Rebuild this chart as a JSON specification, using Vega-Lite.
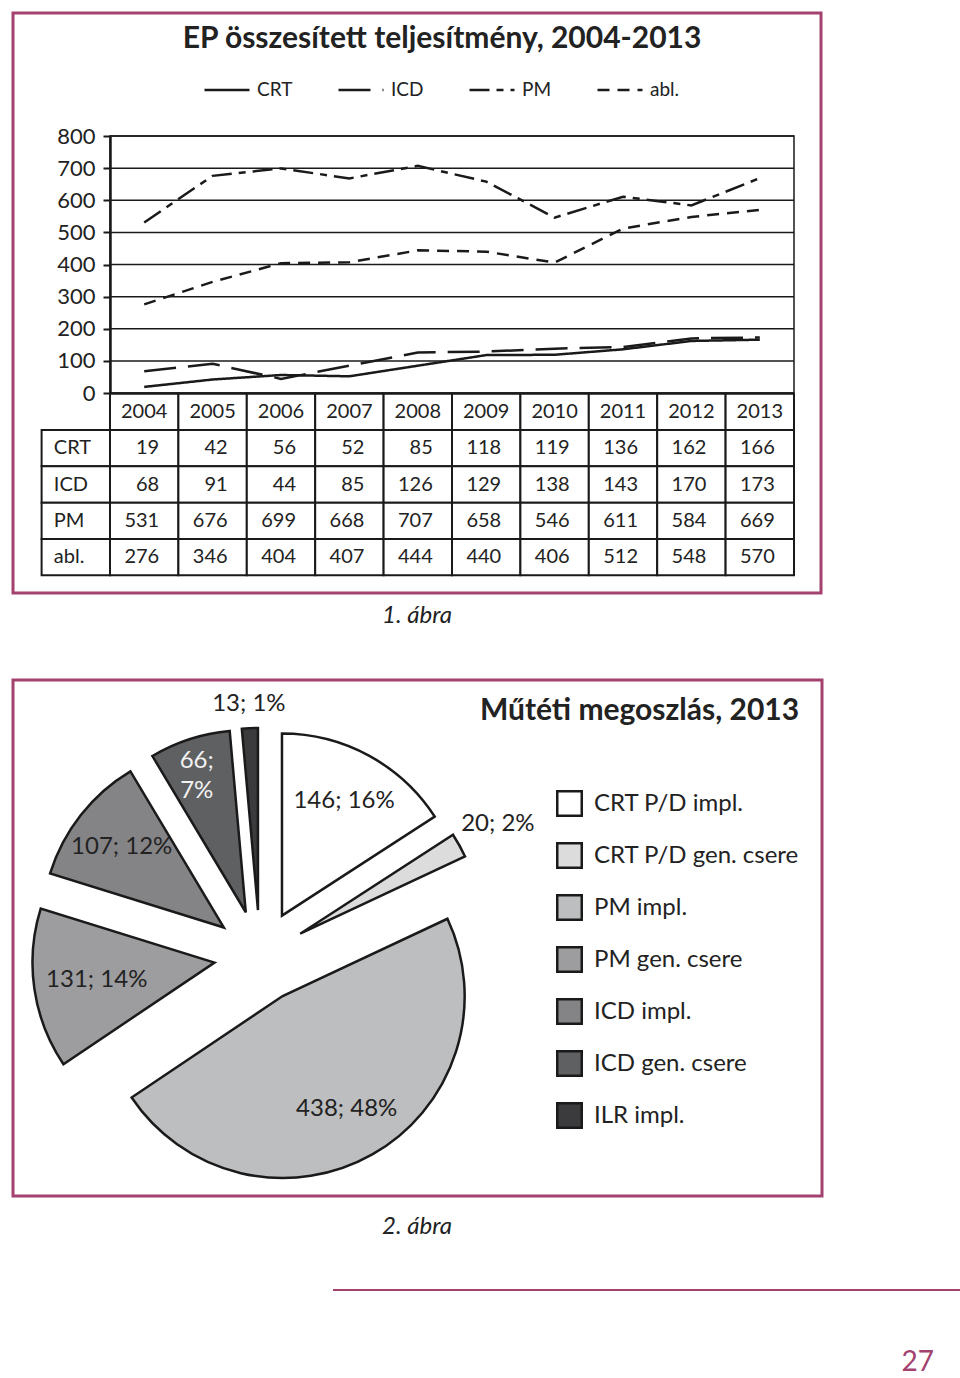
{
  "$schema": "https://vega.github.io/schema/vega-lite/v6.json",
  "background": "white",
  "padding": {"left": 11, "top": 11, "right": 0, "bottom": 0},
  "spacing": 0,
  "config": {
    "view": {"stroke": null},
    "font": "Lato",
    "text": {"font": "Lato"},
    "axis": {"labelFont": "Lato"},
    "legend": {"labelFont": "Lato"},
    "title": {"font": "Lato"}
  },
  "datasets": {
    "ep": [
      {"series": "CRT", "year": "2004", "value": 19},
      {"series": "CRT", "year": "2005", "value": 42},
      {"series": "CRT", "year": "2006", "value": 56},
      {"series": "CRT", "year": "2007", "value": 52},
      {"series": "CRT", "year": "2008", "value": 85},
      {"series": "CRT", "year": "2009", "value": 118},
      {"series": "CRT", "year": "2010", "value": 119},
      {"series": "CRT", "year": "2011", "value": 136},
      {"series": "CRT", "year": "2012", "value": 162},
      {"series": "CRT", "year": "2013", "value": 166},
      {"series": "ICD", "year": "2004", "value": 68},
      {"series": "ICD", "year": "2005", "value": 91},
      {"series": "ICD", "year": "2006", "value": 44},
      {"series": "ICD", "year": "2007", "value": 85},
      {"series": "ICD", "year": "2008", "value": 126},
      {"series": "ICD", "year": "2009", "value": 129},
      {"series": "ICD", "year": "2010", "value": 138},
      {"series": "ICD", "year": "2011", "value": 143},
      {"series": "ICD", "year": "2012", "value": 170},
      {"series": "ICD", "year": "2013", "value": 173},
      {"series": "PM", "year": "2004", "value": 531},
      {"series": "PM", "year": "2005", "value": 676},
      {"series": "PM", "year": "2006", "value": 699},
      {"series": "PM", "year": "2007", "value": 668},
      {"series": "PM", "year": "2008", "value": 707},
      {"series": "PM", "year": "2009", "value": 658},
      {"series": "PM", "year": "2010", "value": 546},
      {"series": "PM", "year": "2011", "value": 611},
      {"series": "PM", "year": "2012", "value": 584},
      {"series": "PM", "year": "2013", "value": 669},
      {"series": "abl.", "year": "2004", "value": 276},
      {"series": "abl.", "year": "2005", "value": 346},
      {"series": "abl.", "year": "2006", "value": 404},
      {"series": "abl.", "year": "2007", "value": 407},
      {"series": "abl.", "year": "2008", "value": 444},
      {"series": "abl.", "year": "2009", "value": 440},
      {"series": "abl.", "year": "2010", "value": 406},
      {"series": "abl.", "year": "2011", "value": 512},
      {"series": "abl.", "year": "2012", "value": 548},
      {"series": "abl.", "year": "2013", "value": 570}
    ],
    "pie": [
      {"cat": "CRT P/D impl.", "value": 146, "i": 1, "label": "146; 16%"},
      {"cat": "CRT P/D gen. csere", "value": 20, "i": 2, "label": "20; 2%"},
      {"cat": "PM impl.", "value": 438, "i": 3, "label": "438; 48%"},
      {"cat": "PM gen. csere", "value": 131, "i": 4, "label": "131; 14%"},
      {"cat": "ICD impl.", "value": 107, "i": 5, "label": "107; 12%"},
      {"cat": "ICD gen. csere", "value": 66, "i": 6, "label": "66;\n7%"},
      {"cat": "ILR impl.", "value": 13, "i": 7, "label": "13; 1%"}
    ]
  },
  "vconcat": [
    {
      "width": 808,
      "height": 580,
      "view": {"stroke": "#a3416f", "strokeWidth": 3},
      "title": {
        "text": "EP összesített teljesítmény, 2004-2013",
        "fontSize": 30,
        "fontWeight": "bold",
        "color": "#222222",
        "anchor": "middle",
        "frame": "group",
        "dx": 25,
        "offset": -41
      },
      "resolve": {"scale": {"x": "independent", "y": "independent"}},
      "layer": [
        {
          "data": {"values": [{"v": 0}, {"v": 100}, {"v": 200}, {"v": 300}, {"v": 400}, {"v": 500}, {"v": 600}, {"v": 700}, {"v": 800}]},
          "mark": {"type": "rule", "color": "#1a1a1a", "strokeWidth": 1.5},
          "encoding": {
            "y": {
              "field": "v", "type": "quantitative",
              "scale": {"domain": [0, 800], "range": [380, 123], "nice": false, "zero": false},
              "axis": {
                "orient": "left", "offset": -97,
                "values": [0, 100, 200, 300, 400, 500, 600, 700, 800],
                "tickSize": 7, "tickWidth": 2, "tickColor": "#1a1a1a",
                "domainColor": "#1a1a1a", "domainWidth": 2.5,
                "labelFontSize": 22, "labelColor": "#222222", "labelPadding": 8,
                "grid": false, "title": null
              }
            },
            "x": {"datum": 0, "type": "quantitative", "scale": {"domain": [0, 1], "range": [97, 781]}, "axis": null},
            "x2": {"datum": 1}
          }
        },
        {
          "data": {"values": [{}]},
          "mark": {"type": "rect", "filled": false, "stroke": "#1a1a1a", "strokeWidth": 1.5},
          "encoding": {
            "x": {"datum": 0, "type": "quantitative", "scale": {"domain": [0, 1], "range": [97, 781]}, "axis": null},
            "x2": {"datum": 1},
            "y": {"datum": 0, "type": "quantitative", "scale": {"domain": [0, 800], "range": [380, 123], "nice": false}, "axis": null},
            "y2": {"datum": 800}
          }
        },
        {
          "data": {"name": "ep"},
          "mark": {"type": "line", "color": "#1a1a1a", "strokeWidth": 2.5},
          "encoding": {
            "x": {
              "field": "year", "type": "ordinal",
              "scale": {"type": "point", "domain": ["2004", "2005", "2006", "2007", "2008", "2009", "2010", "2011", "2012", "2013"], "range": [97, 781], "padding": 0.5},
              "axis": null
            },
            "y": {"field": "value", "type": "quantitative", "scale": {"domain": [0, 800], "range": [380, 123], "nice": false}, "axis": null},
            "strokeDash": {
              "field": "series", "type": "nominal",
              "scale": {"domain": ["CRT", "ICD", "PM", "abl."], "range": [[1, 0], [32, 12], [20, 7, 7, 7], [12, 8]]},
              "legend": {
                "orient": "none", "legendX": 190, "legendY": 53, "direction": "horizontal",
                "title": null, "symbolType": "stroke", "symbolSize": 2025,
                "symbolStrokeWidth": 2.5, "symbolStrokeColor": "#1a1a1a",
                "labelFontSize": 19, "labelColor": "#222222", "columnPadding": 40, "labelOffset": 6
              }
            }
          }
        },
        {
          "data": {"name": "ep"},
          "layer": [
            {
              "mark": {"type": "rect", "fill": "white", "stroke": "#1a1a1a", "strokeWidth": 2},
              "encoding": {
                "x": {"field": "year", "type": "ordinal", "scale": {"type": "band", "domain": [" ", "2004", "2005", "2006", "2007", "2008", "2009", "2010", "2011", "2012", "2013"], "range": [28.6, 781], "paddingInner": 0, "paddingOuter": 0}, "axis": null},
                "y": {"field": "series", "type": "ordinal", "scale": {"type": "band", "domain": ["hdr", "CRT", "ICD", "PM", "abl."], "range": [380.7, 562.3], "paddingInner": 0, "paddingOuter": 0}, "axis": null}
              }
            },
            {
              "mark": {"type": "text", "align": "right", "dx": 15, "fontSize": 20, "color": "#222222"},
              "encoding": {
                "x": {"field": "year", "type": "ordinal"},
                "y": {"field": "series", "type": "ordinal"},
                "text": {"field": "value", "type": "nominal"}
              }
            },
            {
              "transform": [{"aggregate": [{"op": "count", "as": "n"}], "groupby": ["year"]}],
              "mark": {"type": "rect", "fill": "white", "stroke": "#1a1a1a", "strokeWidth": 2},
              "encoding": {
                "x": {"field": "year", "type": "ordinal"},
                "y": {"datum": "hdr", "type": "ordinal"}
              }
            },
            {
              "transform": [{"aggregate": [{"op": "count", "as": "n"}], "groupby": ["year"]}],
              "mark": {"type": "text", "fontSize": 20, "color": "#222222"},
              "encoding": {
                "x": {"field": "year", "type": "ordinal"},
                "y": {"datum": "hdr", "type": "ordinal"},
                "text": {"field": "year", "type": "nominal"}
              }
            },
            {
              "transform": [{"aggregate": [{"op": "count", "as": "n"}], "groupby": ["series"]}],
              "mark": {"type": "rect", "fill": "white", "stroke": "#1a1a1a", "strokeWidth": 2},
              "encoding": {
                "x": {"datum": " ", "type": "ordinal"},
                "y": {"field": "series", "type": "ordinal"}
              }
            },
            {
              "transform": [{"aggregate": [{"op": "count", "as": "n"}], "groupby": ["series"]}],
              "mark": {"type": "text", "align": "left", "dx": -22, "fontSize": 20, "color": "#222222"},
              "encoding": {
                "x": {"datum": " ", "type": "ordinal"},
                "y": {"field": "series", "type": "ordinal"},
                "text": {"field": "series", "type": "nominal"}
              }
            }
          ]
        }
      ]
    },
    {
      "width": 808,
      "height": 83,
      "data": {"values": [{"t": "1. ábra"}]},
      "mark": {"type": "text", "fontSize": 24, "fontStyle": "italic", "color": "#222222", "dy": -20.5},
      "encoding": {"text": {"field": "t", "type": "nominal"}}
    },
    {
      "width": 809,
      "height": 516,
      "view": {"stroke": "#a3416f", "strokeWidth": 3},
      "title": {
        "text": "Műtéti megoszlás, 2013",
        "fontSize": 30,
        "fontWeight": "bold",
        "color": "#222222",
        "anchor": "middle",
        "frame": "group",
        "dx": 222,
        "offset": -46
      },
      "data": {"name": "pie"},
      "layer": [
        {
          "mark": {
            "type": "arc", "outerRadius": 182, "stroke": "#1a1a1a", "strokeWidth": 2.5,
            "x": {"expr": "247 + 46*sin(PI*(datum.value_start+datum.value_end)/921)"},
            "y": {"expr": "276 - 46*cos(PI*(datum.value_start+datum.value_end)/921)"}
          },
          "encoding": {
            "theta": {"field": "value", "type": "quantitative", "stack": "zero"},
            "order": {"field": "i", "type": "quantitative"},
            "color": {
              "field": "cat", "type": "nominal",
              "scale": {
                "domain": ["CRT P/D impl.", "CRT P/D gen. csere", "PM impl.", "PM gen. csere", "ICD impl.", "ICD gen. csere", "ILR impl."],
                "range": ["#ffffff", "#dcdcdc", "#bdbebf", "#9d9d9f", "#848486", "#5f6062", "#3b3b3d"]
              },
              "legend": {
                "orient": "none", "legendX": 543, "legendY": 777, "direction": "vertical",
                "title": null, "symbolType": "square", "symbolSize": 600,
                "symbolStrokeColor": "#1a1a1a", "symbolStrokeWidth": 2.5,
                "labelFontSize": 24, "labelColor": "#222222", "labelOffset": 11, "rowPadding": 17,
                "labelLimit": 400
              }
            }
          }
        },
        {
          "mark": {
            "type": "text", "x": 247, "y": 276,
            "radius": {"expr": "datum.value == 66 ? 205 : datum.value == 20 ? 272 : datum.value == 13 ? 252 : datum.value == 131 ? 165 : 176"},
            "fontSize": 24, "lineBreak": "\n", "lineHeight": 30
          },
          "encoding": {
            "theta": {"field": "value", "type": "quantitative", "stack": "zero"},
            "order": {"field": "i", "type": "quantitative"},
            "detail": {"field": "cat", "type": "nominal"},
            "text": {"field": "label", "type": "nominal"},
            "color": {"condition": {"test": "datum.value == 66", "value": "#f2f2f2"}, "value": "#222222"}
          }
        }
      ]
    },
    {
      "width": 808,
      "height": 91,
      "data": {"values": [{"t": "2. ábra"}]},
      "mark": {"type": "text", "fontSize": 24, "fontStyle": "italic", "color": "#222222", "dy": -16.5},
      "encoding": {"text": {"field": "t", "type": "nominal"}}
    },
    {
      "spacing": 0,
      "hconcat": [
        {
          "width": 319,
          "height": 55,
          "data": {"values": []},
          "mark": "point"
        },
        {
          "width": 630,
          "height": 55,
          "data": {"values": [{}]},
          "mark": {"type": "rule", "color": "#a3416f", "strokeWidth": 2},
          "encoding": {"y": {"value": 0}},
          "title": {"text": "27", "orient": "bottom", "anchor": "end", "fontSize": 28, "fontWeight": "normal", "color": "#a3416f", "dx": -30, "offset": 4}
        }
      ]
    }
  ]
}
